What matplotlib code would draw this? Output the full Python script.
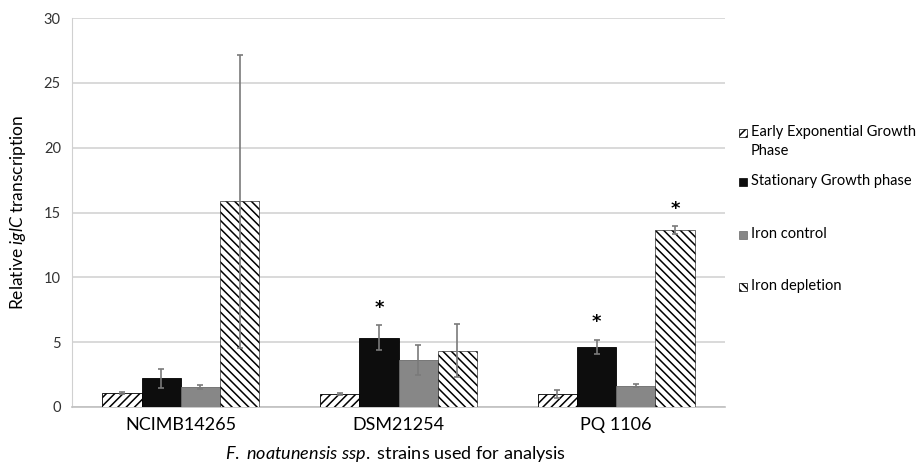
import matplotlib
matplotlib.use("Agg")
import matplotlib.pyplot as plt
import numpy as np
from matplotlib.patches import Rectangle

plt.rcParams['font.family'] = ['Lato', 'DejaVu Sans']
plt.rcParams['mathtext.fontset'] = 'custom'
plt.rcParams['mathtext.rm'] = 'Lato'
plt.rcParams['mathtext.it'] = 'Lato:italic'
plt.rcParams['hatch.linewidth'] = 1.1

strains = ['NCIMB14265', 'DSM21254', 'PQ 1106']
series_names = ['Early Exponential Growth\nPhase', 'Stationary Growth phase',
                'Iron control', 'Iron depletion']
early = [1.05, 1.00, 1.00]
early_err = [0.08, 0.09, 0.30]
stationary = [2.20, 5.35, 4.65]
stationary_err = [0.70, 0.98, 0.55]
iron_control = [1.57, 3.62, 1.65]
iron_control_err = [0.15, 1.15, 0.12]
iron_depletion = [15.85, 4.33, 13.65]
iron_depletion_err = [11.30, 2.05, 0.30]
significant = [[False, False, False], [False, True, True],
               [False, False, False], [False, False, True]]
yticks = [0, 5, 10, 15, 20, 25, 30]

values = [early, stationary, iron_control, iron_depletion]
errors = [early_err, stationary_err, iron_control_err, iron_depletion_err]
styles = [dict(facecolor='white', edgecolor='black', hatch='////', linewidth=0.6),
          dict(facecolor='#0d0d0d', edgecolor='black', linewidth=0.6),
          dict(facecolor='#878787', edgecolor='#6a6a6a', linewidth=0.6),
          dict(facecolor='white', edgecolor='black', hatch='\\\\\\\\', linewidth=0.4)]

fig = plt.figure(figsize=(9.21, 4.70), dpi=100)
ax = fig.add_axes([72/921, 1-407/470, (725-72)/921, (407-18)/470])

x = np.arange(len(strains))
w = 0.18
for i, (v, e, st) in enumerate(zip(values, errors, styles)):
    pos = x + (i - 1.5) * w
    ax.bar(pos, v, width=w, zorder=3, **st)
    ax.errorbar(pos, v, yerr=e, fmt='none', ecolor='#7a7a7a', elinewidth=1.2,
                capsize=2.5, capthick=1.2, zorder=4)
    for j in range(len(strains)):
        if significant[i][j]:
            ax.annotate('*', xy=(pos[j], v[j] + e[j]), xytext=(0, 6),
                        textcoords='offset points', ha='center', va='bottom',
                        fontsize=13, fontweight='bold', color='black',
                        family='DejaVu Sans')

ax.set_xlim(-0.5, 2.5)
ax.set_ylim(0, 30)
ax.set_yticks(yticks)
ax.set_xticks(x)
ax.set_xticklabels(strains, fontsize=13)
ax.tick_params(axis='y', labelsize=10.5, length=0, pad=8, colors='#333333')
ax.tick_params(axis='x', length=0, pad=7)
ax.grid(axis='y', color='#d0d0d0', linewidth=1.1, zorder=0)
ax.set_axisbelow(True)
for s in ['top', 'right']:
    ax.spines[s].set_visible(False)
ax.spines['left'].set_color('#d0d0d0')
ax.spines['bottom'].set_color('#c0c0c0')
ax.spines['bottom'].set_linewidth(1.2)

ax.set_ylabel('Relative ' + r'$\mathit{iglC}$' + ' transcription', fontsize=12.5)
ax.yaxis.set_label_coords(-0.068, 0.5)
ax.set_xlabel(r'$\mathit{F.\ noatunensis\ ssp.}$' + ' strains used for analysis', fontsize=13)
ax.xaxis.set_label_coords(0.495, -0.095)

# legend drawn at the right side, entries placed like the original
leg_y = [133, 182, 235, 287]
for name, st, yp in zip(series_names, styles, leg_y):
    size = 8
    r = Rectangle(((739)/921, 1-(yp+size/2)/470), size/921, size/470,
                  transform=fig.transFigure, **{k: v for k, v in st.items() if k != 'linewidth'},
                  linewidth=0.5)
    fig.add_artist(r)
    fig.text(751/921, 1-(yp-8)/470, name, fontsize=10.5, va='top', ha='left',
             linespacing=1.45)

fig.savefig('out.png', dpi=100)
